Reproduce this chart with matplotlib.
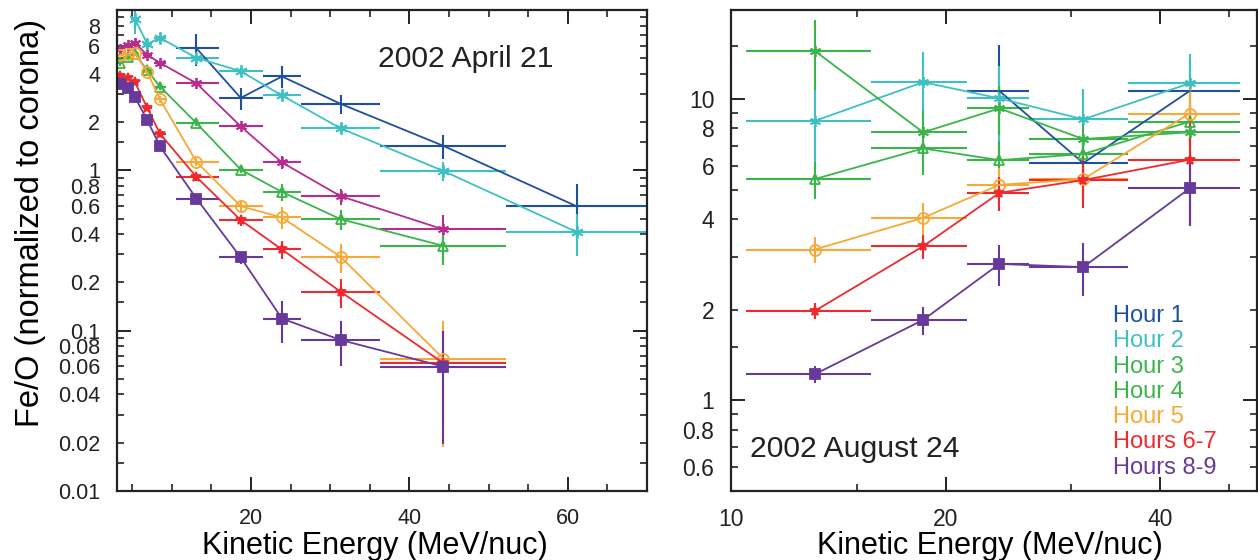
import numpy as np
import matplotlib
matplotlib.use("Agg")
import matplotlib.pyplot as plt
from matplotlib.ticker import FixedLocator, FixedFormatter, NullFormatter

plt.rcParams['font.family'] = ['Liberation Sans', 'DejaVu Sans']

nan = np.nan

# ---------------- 2002 April 21 ----------------
APR_E   = [3.46, 4.42, 5.34, 6.9, 8.5, 13.1, 18.7, 23.9, 31.3, 44.3, 61.1]
APR_ELO = [3.05, 4.0, 4.9, 6.3, 7.7, 10.5, 15.9, 21.5, 26.3, 36.3, 52.2]
APR_EHI = [3.85, 4.85, 5.8, 7.5, 9.3, 15.9, 21.5, 26.3, 36.3, 52.2, 70.3]

apr_h1     = [nan, nan, nan, nan, nan, 5.77, 2.83, 3.85, 2.6, 1.42, 0.597]
apr_h1_err = [nan, nan, nan, nan, nan, 1.3, 0.45, 0.6, 0.37, 0.25, 0.22]
apr_h2     = [nan, nan, 8.8, 6.14, 6.7, 5.03, 4.15, 2.93, 1.83, 0.99, 0.413]
apr_h2_err = [nan, nan, 1.7, 0.5, 0.5, 0.4, 0.2, 0.2, 0.12, 0.13, 0.12]
apr_h3     = [5.72, 6.08, 6.2, 5.25, 4.68, 3.49, 1.88, 1.12, 0.69, 0.428, nan]
apr_h3_err = [0.2, 0.2, 0.2, 0.2, 0.15, 0.12, 0.07, 0.1, 0.08, 0.1, nan]
apr_h4     = [4.68, 5.07, 5.35, 4.2, 3.33, 1.97, 1.01, 0.733, 0.496, 0.338, nan]
apr_h4_err = [0.2, 0.2, 0.2, 0.2, 0.15, 0.08, 0.05, 0.09, 0.07, 0.08, nan]
apr_h5     = [5.25, 5.32, 5.4, 4.09, 2.77, 1.13, 0.597, 0.508, 0.289, 0.0668, nan]
apr_h5_err = [0.2, 0.2, 0.2, 0.2, 0.15, 0.06, 0.05, 0.08, 0.06, 0.048, nan]
apr_h67     = [3.86, 3.75, 3.54, 2.45, 1.69, 0.909, 0.489, 0.321, 0.175, 0.0627, nan]
apr_h67_err = [0.15, 0.15, 0.15, 0.1, 0.08, 0.05, 0.04, 0.04, 0.036, 0.037, nan]
apr_h89     = [3.46, 3.27, 2.86, 2.05, 1.41, 0.667, 0.286, 0.119, 0.0875, 0.0597, nan]
apr_h89_err = [0.1, 0.1, 0.1, 0.08, 0.06, 0.04, 0.025, 0.035, 0.027, 0.04, nan]

# ---------------- 2002 August 24 ----------------
AUG_E   = [13.1, 18.6, 23.8, 31.2, 44.0]
AUG_ELO = [10.5, 15.7, 21.4, 26.2, 36.0]
AUG_EHI = [15.7, 21.4, 26.2, 36.0, 51.7]

aug_h1     = [nan, nan, 10.66, 6.14, 10.66]
aug_h1_err = [nan, nan, 4.5, 1.5, 2.8]
aug_h2     = [8.47, 11.4, 10.07, 8.58, 11.3]
aug_h2_err = [2.3, 3.0, 2.8, 2.2, 2.8]
aug_h3     = [14.5, 7.77, 9.33, 7.38, 7.77]
aug_h3_err = [3.8, 1.4, 1.7, 1.3, 1.5]
aug_h4     = [5.43, 6.87, 6.28, 6.58, 8.43]
aug_h4_err = [0.75, 1.25, 1.0, 0.9, 1.2]
aug_h5     = [3.17, 4.04, 5.2, 5.43, 8.97]
aug_h5_err = [0.32, 0.5, 0.7, 1.0, 2.5]
aug_h67     = [1.98, 3.25, 4.89, 5.39, 6.3]
aug_h67_err = [0.12, 0.3, 0.65, 1.05, 2.5]
aug_h89     = [1.22, 1.85, 2.84, 2.77, 5.06]
aug_h89_err = [0.08, 0.2, 0.45, 0.55, 1.27]

legend_labels = ["Hour 1", "Hour 2", "Hour 3", "Hour 4", "Hour 5", "Hours 6-7", "Hours 8-9"]

C_BLUE = "#1f4f9f"
C_CYAN = "#3ec1c3"
C_GREEN = "#3bb54a"
C_ORANGE = "#f8a834"
C_RED = "#ee2a2f"
C_PURPLE = "#66399a"
C_MAGENTA = "#b62d8f"
legend_colors = [C_BLUE, C_CYAN, C_GREEN, C_GREEN, C_ORANGE, C_RED, C_PURPLE]

ASTER = (6, 2, 0)

fig = plt.figure(figsize=(12.58, 5.6), dpi=100)
axL = fig.add_axes([117/1258, 1-491/560, 530/1258, 481/560])
axR = fig.add_axes([731/1258, 1-491/560, 526/1258, 481/560])


def draw(ax, E, elo, ehi, y, yerr, color, marker, ms, mfc, lw=1.3, elw=1.5):
    E = np.asarray(E, float)
    elo = np.asarray(elo, float)
    ehi = np.asarray(ehi, float)
    y = np.asarray(y, float)
    yerr = np.asarray(yerr, float)
    m = ~np.isnan(y)
    ax.errorbar(E[m], y[m], xerr=[E[m]-elo[m], ehi[m]-E[m]], yerr=yerr[m],
                color=color, ecolor=color, elinewidth=elw, capsize=0, lw=lw,
                marker=marker, ms=ms, mfc=mfc, mec=color, mew=1.3)


left_series = [
    (apr_h1, apr_h1_err, C_BLUE, '', 0, C_BLUE),
    (apr_h2, apr_h2_err, C_CYAN, ASTER, 9, C_CYAN),
    (apr_h3, apr_h3_err, C_MAGENTA, ASTER, 8, C_MAGENTA),
    (apr_h4, apr_h4_err, C_GREEN, '^', 7, 'none'),
    (apr_h5, apr_h5_err, C_ORANGE, 'o', 8, 'none'),
    (apr_h67, apr_h67_err, C_RED, '*', 7, C_RED),
    (apr_h89, apr_h89_err, C_PURPLE, 's', 6.5, C_PURPLE),
]
for y, ye, c, mk, ms, mfc in left_series:
    draw(axL, APR_E, APR_ELO, APR_EHI, y, ye, c, mk, ms, mfc)

right_series = [
    (aug_h1, aug_h1_err, C_BLUE, '', 0, C_BLUE),
    (aug_h2, aug_h2_err, C_CYAN, ASTER, 8, C_CYAN),
    (aug_h3, aug_h3_err, C_GREEN, ASTER, 8, C_GREEN),
    (aug_h4, aug_h4_err, C_GREEN, '^', 7, 'none'),
    (aug_h5, aug_h5_err, C_ORANGE, 'o', 8, 'none'),
    (aug_h67, aug_h67_err, C_RED, '*', 7, C_RED),
    (aug_h89, aug_h89_err, C_PURPLE, 's', 6.5, C_PURPLE),
]
for y, ye, c, mk, ms, mfc in right_series:
    draw(axR, AUG_E, AUG_ELO, AUG_EHI, y, ye, c, mk, ms, mfc)

# ---- Left axes formatting
axL.set_yscale('log')
axL.set_xlim(3.07, 70)
axL.set_ylim(0.01, 10)
axL.xaxis.set_major_locator(FixedLocator([20, 40, 60]))
axL.xaxis.set_minor_locator(FixedLocator([5, 10, 15, 25, 30, 35, 45, 50, 55, 65]))
axL.yaxis.set_major_locator(FixedLocator([0.01, 0.1, 1, 10]))
axL.yaxis.set_major_formatter(FixedFormatter(['0.01', '0.1', '1', '']))
yminL = []
yminL_lab = []
for dec in [0.01, 0.1, 1]:
    for s in [1.5, 2, 3, 4, 5, 6, 7, 8, 9]:
        v = s * dec
        yminL.append(v)
        yminL_lab.append(('%g' % v) if s in (2, 4, 6, 8) else '')
axL.yaxis.set_minor_locator(FixedLocator(yminL))
axL.yaxis.set_minor_formatter(FixedFormatter(yminL_lab))
axL.set_xlabel('Kinetic Energy (MeV/nuc)', fontsize=22)
axL.set_ylabel('Fe/O (normalized to corona)', fontsize=23.5)
axL.xaxis.set_label_coords(0.487, -0.083)
axL.yaxis.set_label_coords(-0.134, 0.557)
axL.text(0.4925, 0.898, '2002 April 21', transform=axL.transAxes, fontsize=21.7,
         ha='left', va='center', color='#222222')

# ---- Right axes formatting
axR.set_xscale('log')
axR.set_yscale('log')
axR.set_xlim(10, 54.7)
axR.set_ylim(0.5, 19.8)
axR.xaxis.set_major_locator(FixedLocator([10, 20, 40]))
axR.xaxis.set_major_formatter(FixedFormatter(['10', '20', '40']))
axR.xaxis.set_minor_locator(FixedLocator([15, 30, 50]))
axR.xaxis.set_minor_formatter(NullFormatter())
axR.yaxis.set_major_locator(FixedLocator([1, 10]))
axR.yaxis.set_major_formatter(FixedFormatter(['1', '10']))
yminR = [0.6, 0.7, 0.8, 0.9, 1.5, 2, 3, 4, 5, 6, 7, 8, 9, 15]
yminR_lab = ['0.6', '', '0.8', '', '', '2', '', '4', '', '6', '', '8', '', '']
axR.yaxis.set_minor_locator(FixedLocator(yminR))
axR.yaxis.set_minor_formatter(FixedFormatter(yminR_lab))
axR.set_xlabel('Kinetic Energy (MeV/nuc)', fontsize=22)
axR.xaxis.set_label_coords(0.492, -0.083)
axR.text(0.037, 0.087, '2002 August 24', transform=axR.transAxes, fontsize=21.7,
         ha='left', va='center', color='#222222')

for i, (lab, col) in enumerate(zip(legend_labels, legend_colors)):
    axR.text(0.726, 0.364 - i*0.0526, lab, transform=axR.transAxes, fontsize=17,
             color=col, ha='left', va='center')

for ax, ls in ((axL, 15.5), (axR, 16.5)):
    for sp in ax.spines.values():
        sp.set_linewidth(1.6)
        sp.set_color('#222222')
    ax.tick_params(which='both', direction='in', top=True, right=True,
                   labelsize=ls, colors='#222222', pad=12)
    ax.tick_params(which='major', length=10, width=1.4)
    ax.tick_params(which='minor', length=5, width=1.2)

fig.savefig('out.png', dpi=100)
